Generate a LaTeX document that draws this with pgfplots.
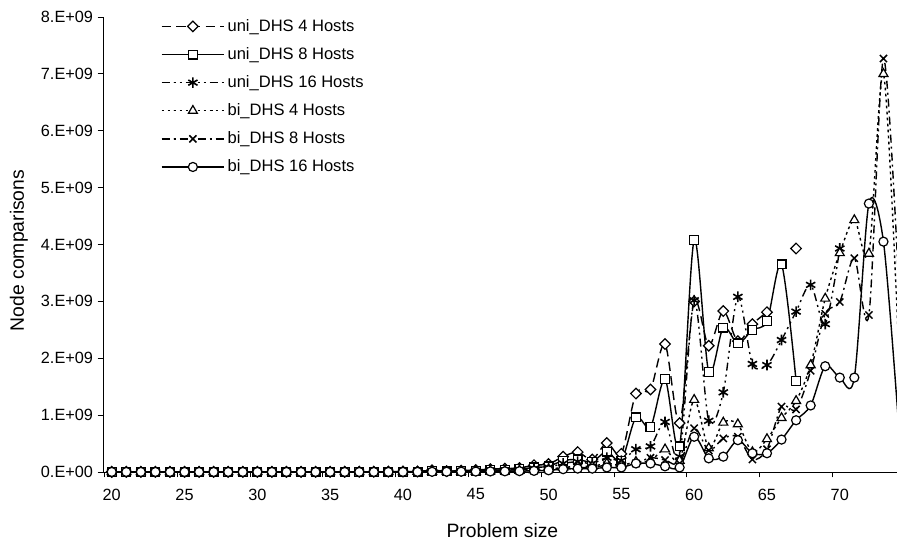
\documentclass[border=0pt]{standalone}
\usepackage{pgfplots}
\pgfplotsset{compat=1.18}
\usepackage{pgfplotstable}
\usepackage{fontspec}
\setmainfont{Liberation Sans}

% Node comparisons (in units of 1E9) per problem size; nan = no run
\pgfplotstableread{
x   u4     u8     u16    b4     b8     b16
20  0.002  0.001  0.001  0.001  0.001  0.001
21  0.002  0.001  0.001  0.001  0.001  0.001
22  0.002  0.001  0.001  0.001  0.001  0.001
23  0.002  0.001  0.001  0.001  0.001  0.001
24  0.002  0.001  0.001  0.001  0.001  0.001
25  0.002  0.001  0.001  0.001  0.001  0.001
26  0.002  0.001  0.001  0.001  0.001  0.001
27  0.002  0.001  0.001  0.001  0.001  0.001
28  0.002  0.001  0.001  0.001  0.001  0.001
29  0.002  0.001  0.001  0.001  0.001  0.001
30  0.002  0.001  0.001  0.001  0.001  0.001
31  0.002  0.001  0.001  0.001  0.001  0.001
32  0.002  0.001  0.001  0.001  0.001  0.001
33  0.002  0.001  0.001  0.001  0.001  0.001
34  0.002  0.001  0.001  0.001  0.001  0.001
35  0.002  0.001  0.001  0.001  0.001  0.001
36  0.003  0.002  0.001  0.001  0.001  0.001
37  0.003  0.002  0.002  0.001  0.001  0.001
38  0.004  0.003  0.002  0.002  0.002  0.001
39  0.005  0.003  0.003  0.002  0.002  0.002
40  0.008  0.005  0.004  0.003  0.003  0.002
41  0.010  0.006  0.005  0.004  0.003  0.003
42  0.030  0.025  0.010  0.006  0.005  0.004
43  0.015  0.010  0.010  0.008  0.006  0.005
44  0.025  0.015  0.015  0.010  0.008  0.006
45  0.035  0.020  0.020  0.012  0.010  0.008
46  0.050  0.040  0.025  0.015  0.012  0.010
47  0.060  0.030  0.030  0.020  0.015  0.012
48  0.070  0.050  0.040  0.025  0.020  0.015
49  0.120  0.080  0.060  0.030  0.025  0.020
50  0.140  0.100  0.080  0.050  0.040  0.030
51  0.270  0.200  0.150  0.080  0.070  0.050
52  0.350  0.220  0.180  0.100  0.080  0.060
53  0.220  0.180  0.150  0.100  0.080  0.060
54  0.510  0.360  0.250  0.150  0.120  0.080
55  0.320  0.200  0.200  0.120  0.100  0.080
56  1.380  0.960  0.400  0.180  0.150  0.150
57  1.450  0.790  0.450  0.200  0.250  0.150
58  2.250  1.630  0.880  0.400  0.210  0.100
59  0.860  0.450  0.270  0.200  0.150  0.080
60  3.000  4.080  3.020  1.270  0.770  0.620
61  2.220  1.760  0.900  0.420  0.380  0.240
62  2.830  2.540  1.400  0.870  0.590  0.270
63  2.300  2.260  3.080  0.840  0.620  0.560
64  2.600  2.500  1.900  0.350  0.220  0.330
65  2.810  2.650  1.880  0.580  0.400  0.330
66  nan    3.650  2.320  0.950  1.150  0.570
67  nan    1.600  2.820  1.250  1.100  0.910
68  nan    nan    3.290  1.880  1.780  1.170
69  nan    nan    2.600  3.050  2.780  1.860
70  nan    nan    3.930  3.850  2.990  1.660
71  nan    nan    nan    4.430  3.760  1.660
72  nan    nan    nan    3.840  2.760  4.720
73  nan    nan    nan    7.000  7.270  4.050
74  nan    nan    nan    2.440  3.550  0.970
}\nodedata

\pgfplotsset{
  dhs/.style={black, line width=1.05pt, smooth, tension=0.5},
  mk/.style={mark options={solid, fill=white, line width=0.9pt, #1}},
}

\begin{document}
\begin{tikzpicture}
\begin{axis}[
  at={(0pt,0pt)}, anchor=south west,
  scale only axis, width=595.5pt, height=341.25pt,
  xmin=19.4, xmax=73.93, ymin=0, ymax=8,
  axis x line=bottom, axis y line=left,
  axis line style={-, line width=0.7pt},
  tick align=outside, major tick length=4pt,
  tick style={black, line width=0.7pt},
  xtick={19.5,24.5,...,69.5}, xticklabels={},
  extra x ticks={20,25,...,70},
  extra x tick labels={20,25,30,35,40,45,50,55,60,65,70},
  extra x tick style={major tick length=0pt},
  x tick label style={yshift=-9pt},
  ytick={0,1,...,8},
  yticklabels={0.E+00,1.E+09,2.E+09,3.E+09,4.E+09,5.E+09,6.E+09,7.E+09,8.E+09},
  tick label style={font=\fontsize{12.2}{14}\selectfont},
  xlabel={Problem size}, ylabel={Node comparisons},
  every axis x label/.style={at={(axis description cs:0.503,-0.128)}, anchor=center, font=\fontsize{14.5}{16}\selectfont},
  every axis y label/.style={at={(axis description cs:-0.106,0.487)}, rotate=90, anchor=center, font=\fontsize{14.5}{16}\selectfont},
  legend style={at={(axis description cs:0.0675,1.007)}, anchor=north west,
    draw=none, fill=none, font=\fontsize{12.4}{14}\selectfont, row sep=6.6pt},
  legend cell align=left,
  legend image code/.code={
    \draw[mark repeat=2, mark phase=2] plot coordinates {(0pt,0pt) (23.5pt,0pt) (47pt,0pt)};
  },
]
\addplot[dhs, dash pattern=on 7pt off 4pt, mark=square*, mark size=2.8pt, mk={rotate=45}]
  table[x=x, y=u4] {\nodedata};
\addlegendentry{uni\_DHS 4 Hosts}
\addplot[dhs, mark=square*, mark size=3.3pt, mk={}]
  table[x=x, y=u8] {\nodedata};
\addlegendentry{uni\_DHS 8 Hosts}
\addplot[dhs, dash pattern=on 6pt off 3pt on 1.5pt off 3pt on 1.5pt off 3pt, mark=asterisk, mark size=4pt, mk={line width=1.2pt}]
  table[x=x, y=u16] {\nodedata};
\addlegendentry{uni\_DHS 16 Hosts}
\addplot[dhs, dash pattern=on 2pt off 2.5pt, mark=triangle*, mark size=3.9pt, mk={}]
  table[x=x, y=b4] {\nodedata};
\addlegendentry{bi\_DHS 4 Hosts}
\addplot[dhs, dash pattern=on 6pt off 3pt on 1.5pt off 3pt, mark=x, mark size=3.8pt, mk={line width=1.1pt}]
  table[x=x, y=b8] {\nodedata};
\addlegendentry{bi\_DHS 8 Hosts}
\addplot[dhs, mark=*, mark size=3.4pt, mk={}]
  table[x=x, y=b16] {\nodedata};
\addlegendentry{bi\_DHS 16 Hosts}
% single uni_DHS 4 run at size 67
\addplot[only marks, black, mark=square*, mark size=2.8pt, mk={rotate=45}, forget plot]
  coordinates {(67,3.93)};
\end{axis}
\pgfresetboundingbox
\path[use as bounding box] (-77.25pt,-54pt) rectangle (595.5pt,354pt);
\end{tikzpicture}
\end{document}
